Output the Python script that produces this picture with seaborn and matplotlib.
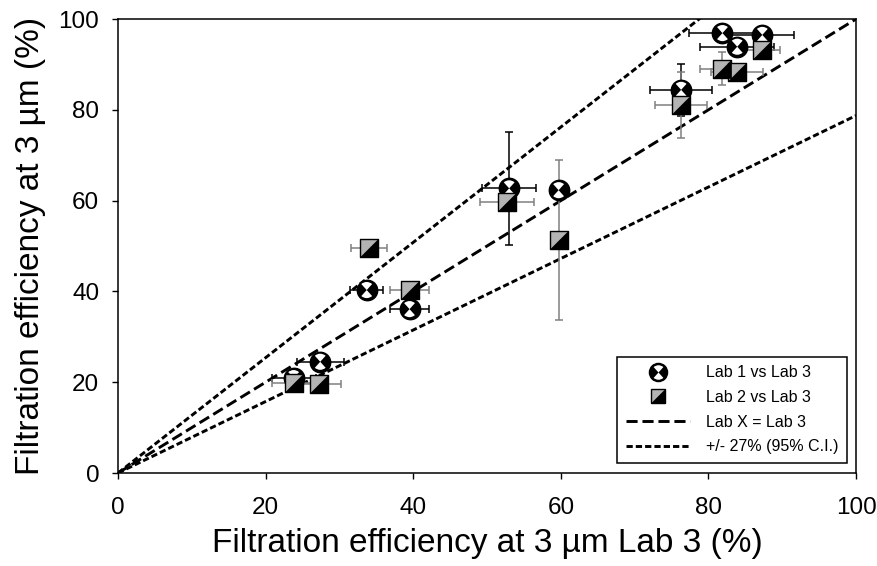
"""
Inter-lab comparison of filtration efficiency at 3 um (Lab 1 / Lab 2 vs Lab 3)
"""

import numpy as np
import matplotlib
matplotlib.use("Agg")
import matplotlib.pyplot as plt
from matplotlib.path import Path
from matplotlib.lines import Line2D
import seaborn as sns

# Lab 1 vs Lab 3 (x = Lab 3, y = Lab 1)
lab1_x = [23.8, 27.4, 33.7, 39.5, 53.0, 59.7, 76.3, 81.9, 83.9, 87.3]
lab1_y = [20.9, 24.5, 40.3, 36.1, 62.7, 62.3, 84.4, 96.9, 93.9, 96.5]
lab1_xerr = [3.0, 3.2, 2.2, 2.7, 3.7, 0.5, 4.2, 4.6, 5.0, 4.3]
lab1_yerr = [1.0, 1.5, 1.5, 0.5, 12.4, 1.0, 5.8, 0.5, 0.5, 0.5]

# Lab 2 vs Lab 3
lab2_x = [23.8, 27.2, 34.0, 39.5, 52.7, 59.7, 76.3, 81.9, 83.9, 87.2]
lab2_y = [19.8, 19.6, 49.5, 40.3, 59.8, 51.3, 81.0, 89.1, 88.4, 93.2]
lab2_xerr = [3.0, 3.0, 2.4, 2.6, 3.7, 0.5, 3.5, 3.0, 3.5, 2.5]
lab2_yerr = [1.0, 1.0, 1.5, 1.0, 2.0, 17.7, 7.3, 3.7, 1.0, 2.0]

ci = 0.27  # +/- 27 % band
axis_range = [0, 100]
ticks = [0, 20, 40, 60, 80, 100]

sns.set_style("ticks")
plt.rcParams['font.family'] = ['Liberation Sans', 'DejaVu Sans']
plt.rcParams['lines.scale_dashes'] = False
plt.rcParams['text.color'] = 'black'
plt.rcParams['axes.labelcolor'] = 'black'
plt.rcParams['xtick.color'] = 'black'
plt.rcParams['ytick.color'] = 'black'

# custom markers: crossed circle with white top/bottom, half-filled square
top_bot = Path.make_compound_path(Path.wedge(48, 132), Path.wedge(228, 312))
lower_tri = Path([(-1, -1), (1, -1), (1, 1), (-1, -1)],
                 [Path.MOVETO, Path.LINETO, Path.LINETO, Path.CLOSEPOLY])

circ_ms = 14.5
sq_ms = 12.5
white_frac = 0.8
grey = '#b4b4b4'

fig = plt.figure(figsize=(8.78, 5.66), dpi=100)
ax = fig.add_axes([0.1344, 0.1643, 0.8406, 0.8021])

# reference lines
rx = np.array(axis_range, dtype=float)
ax.plot(rx, rx, color='black', lw=2.1, dashes=(8, 3.5), zorder=1)
ax.plot(rx, rx * (1 + ci), color='black', lw=2.1, dashes=(4.5, 2.2), zorder=1)
ax.plot(rx, rx / (1 + ci), color='black', lw=2.1, dashes=(4.5, 2.2), zorder=1)

# error bars
ax.errorbar(lab1_x, lab1_y, xerr=lab1_xerr, yerr=lab1_yerr, fmt='none',
            ecolor='black', elinewidth=1.1, capsize=3, capthick=1.1, zorder=2)
ax.errorbar(lab2_x, lab2_y, xerr=lab2_xerr, yerr=lab2_yerr, fmt='none',
            ecolor='#808080', elinewidth=1.1, capsize=3, capthick=1.1, zorder=2)

# Lab 1 markers
sns.scatterplot(x=lab1_x, y=lab1_y, marker='o', s=circ_ms ** 2, color='black',
                edgecolor='black', linewidth=1.2, ax=ax, legend=False, zorder=3)
sns.scatterplot(x=lab1_x, y=lab1_y, marker=top_bot,
                s=(circ_ms * white_frac) ** 2, color='white', edgecolor='none',
                linewidth=0, ax=ax, legend=False, zorder=3.1)

# Lab 2 markers
sns.scatterplot(x=lab2_x, y=lab2_y, marker='s', s=sq_ms ** 2, color=grey,
                edgecolor='black', linewidth=1.0, ax=ax, legend=False, zorder=4)
sns.scatterplot(x=lab2_x, y=lab2_y, marker=lower_tri, s=sq_ms ** 2,
                color='black', edgecolor='black', linewidth=0.5, ax=ax,
                legend=False, zorder=4.1)

ax.set_xlim(axis_range)
ax.set_ylim(axis_range)
ax.set_xticks(ticks)
ax.set_yticks(ticks)
ax.tick_params(axis='both', direction='out', length=4.5, width=1.0,
               labelsize=17.5, color='black', labelcolor='black')
ax.tick_params(axis='x', pad=13)
ax.tick_params(axis='y', pad=9)
for sp in ax.spines.values():
    sp.set_visible(True)
    sp.set_color('black')
    sp.set_linewidth(1.1)

ax.set_xlabel('Filtration efficiency at 3 µm Lab 3 (%)', fontsize=24, labelpad=6)
ax.set_ylabel('Filtration efficiency at 3 µm (%)', fontsize=24, labelpad=9)

# legend
h1 = (Line2D([], [], ls='none', marker='o', ms=circ_ms * 0.9, mfc='black',
             mec='black'),
      Line2D([], [], ls='none', marker=top_bot, ms=circ_ms * 0.9 * white_frac,
             mfc='white', mec='none'))
h2 = (Line2D([], [], ls='none', marker='s', ms=sq_ms * 0.85, mfc=grey,
             mec='black'),
      Line2D([], [], ls='none', marker=lower_tri, ms=sq_ms * 0.85,
             mfc='black', mec='black', mew=0.5))
h3 = Line2D([], [], color='black', lw=2.1, dashes=(8, 3.5))
h4 = Line2D([], [], color='black', lw=2.1, dashes=(4.5, 2.2))
leg = ax.legend([h1, h2, h3, h4],
                ['Lab 1 vs Lab 3', 'Lab 2 vs Lab 3', 'Lab X = Lab 3',
                 '+/- 27% (95% C.I.)'],
                loc='lower right', bbox_to_anchor=(0.988, 0.022),
                fontsize=11.5, frameon=True, fancybox=False, framealpha=1,
                edgecolor='black', handlelength=4.0, handletextpad=1.0,
                labelspacing=0.6, borderpad=0.55, borderaxespad=0)
leg.get_frame().set_linewidth(1.1)

plt.savefig('out.png', dpi=100)
plt.close()
